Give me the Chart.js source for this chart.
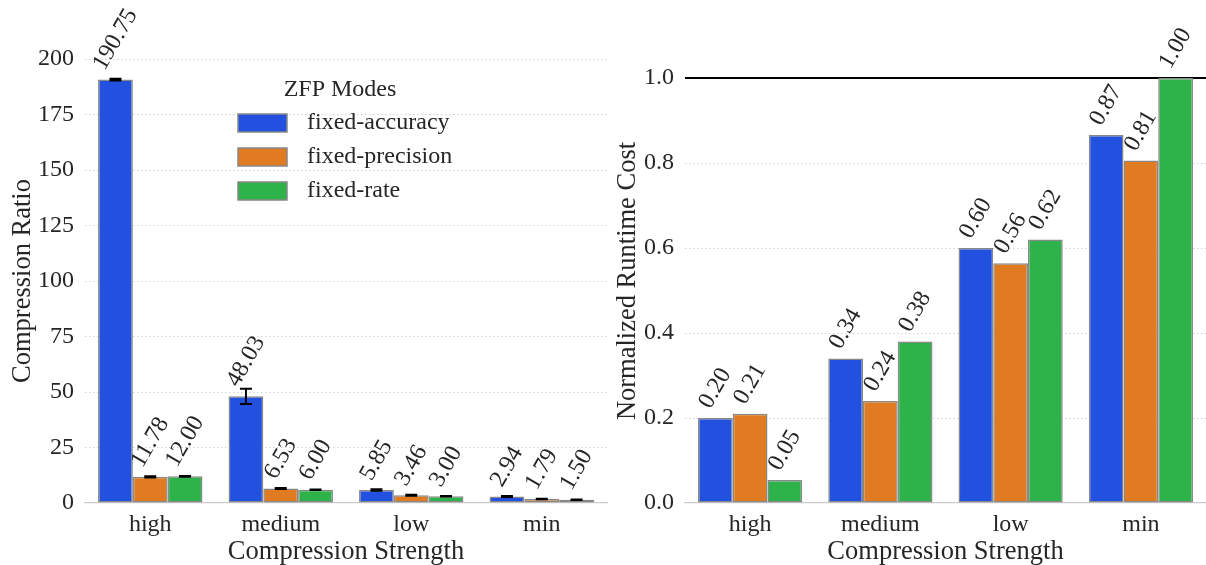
<!DOCTYPE html>
<html>
<head>
<meta charset="utf-8">
<script src="https://cdn.jsdelivr.net/npm/chart.js@4.4.0/dist/chart.umd.min.js"></script>
<style>
  body { margin: 0; background: #fff; width: 1206px; height: 565px; position: relative; overflow: hidden; }
  #ratioChart { position: absolute; left: 0; top: 0; }
  #costChart { position: absolute; left: 600px; top: 0; }
</style>
</head>
<body>
<canvas id="ratioChart" width="610" height="565"></canvas>
<canvas id="costChart" width="606" height="565"></canvas>
<script>
// categories / series
const strengths = ["high", "medium", "low", "min"];
const modes = ["fixed-accuracy", "fixed-precision", "fixed-rate"];
const modeColors = ["#2251e0", "#e07b22", "#2db34a"];

// compression ratio (left) + error bar half-widths
const ratioAccuracy = [190.75, 48.03, 5.85, 2.94];
const ratioPrecision = [11.78, 6.53, 3.46, 1.79];
const ratioRate = [12.00, 6.00, 3.00, 1.50];
const ratioErrAccuracy = [0.4, 3.4, 0.3, 0.2];
const ratioErrPrecision = [0.3, 0.2, 0.2, 0.1];
const ratioErrRate = [0.2, 0.1, 0.1, 0.1];

// normalized runtime cost (right)
const costAccuracy = [0.20, 0.34, 0.60, 0.866];
const costPrecision = [0.21, 0.24, 0.564, 0.806];
const costRate = [0.054, 0.38, 0.62, 1.00];

// tick labels
const ratioTicks = [0, 25, 50, 75, 100, 125, 150, 175, 200];
const costTicks = [0.0, 0.2, 0.4, 0.6, 0.8, 1.0];

const FONT = '"Liberation Serif", "Times New Roman", serif';
const TEXT = "#262626";

// value labels, rotated 60 deg above each bar
const barLabels = {
  id: "barLabels",
  afterDatasetsDraw(chart) {
    const ctx = chart.ctx;
    const a = Math.PI / 3;
    ctx.save();
    ctx.font = "24px " + FONT;
    ctx.fillStyle = TEXT;
    ctx.textAlign = "center";
    ctx.textBaseline = "middle";
    chart.data.datasets.forEach((ds, i) => {
      chart.getDatasetMeta(i).data.forEach((bar, j) => {
        const txt = ds.data[j].toFixed(2);
        const w = ctx.measureText(txt).width;
        const h = 22;
        const boxH = w * Math.sin(a) + h * Math.cos(a);
        ctx.save();
        ctx.translate(bar.x, bar.y - 6 - boxH / 2);
        ctx.rotate(-a);
        ctx.fillText(txt, 0, 0);
        ctx.restore();
      });
    });
    ctx.restore();
  }
};

// error bars from dataset.errors
const errorBars = {
  id: "errorBars",
  afterDatasetsDraw(chart) {
    const ctx = chart.ctx;
    const y = chart.scales.y;
    ctx.save();
    ctx.strokeStyle = "#000";
    ctx.lineWidth = 2;
    chart.data.datasets.forEach((ds, i) => {
      if (!ds.errors) return;
      chart.getDatasetMeta(i).data.forEach((bar, j) => {
        const v = ds.data[j], e = ds.errors[j];
        const top = y.getPixelForValue(v + e);
        const bot = y.getPixelForValue(v - e);
        ctx.beginPath();
        ctx.moveTo(bar.x, top); ctx.lineTo(bar.x, bot);
        ctx.moveTo(bar.x - 6, top); ctx.lineTo(bar.x + 6, top);
        ctx.moveTo(bar.x - 6, bot); ctx.lineTo(bar.x + 6, bot);
        ctx.stroke();
      });
    });
    ctx.restore();
  }
};

// legend with title, inside left plot
const modeLegend = {
  id: "modeLegend",
  afterDraw(chart) {
    const ctx = chart.ctx;
    const x0 = chart.chartArea.left + 153;
    ctx.save();
    ctx.font = "24px " + FONT;
    ctx.fillStyle = TEXT;
    ctx.textBaseline = "middle";
    ctx.textAlign = "center";
    ctx.fillText("ZFP Modes", x0 + 102, 90);
    ctx.textAlign = "left";
    chart.data.datasets.forEach((ds, i) => {
      const cy = 123 + i * 34;
      ctx.fillStyle = ds.backgroundColor;
      ctx.fillRect(x0, cy - 9, 49, 18);
      ctx.strokeStyle = "#888";
      ctx.lineWidth = 1.5;
      ctx.strokeRect(x0, cy - 9, 49, 18);
      ctx.fillStyle = TEXT;
      ctx.fillText(ds.label, x0 + 69, cy);
    });
    ctx.restore();
  }
};

function makeDatasets(series, errs) {
  return series.map((d, i) => ({
    label: modes[i],
    data: d,
    errors: errs ? errs[i] : null,
    backgroundColor: modeColors[i],
    borderColor: "#888888",
    borderWidth: 1.5,
    borderSkipped: false,
    categoryPercentage: 0.8,
    barPercentage: 1.0
  }));
}

function makeOptions(yMax, ticks, yTitle, decimals, rightPad, titlePad) {
  return {
    responsive: false,
    animation: false,
    layout: { padding: { top: 59, right: rightPad, left: 0, bottom: 0 } },
    plugins: { legend: { display: false }, tooltip: { enabled: false } },
    scales: {
      x: {
        grid: { display: false, drawTicks: false },
        border: { color: "#cccccc", width: 1.25 },
        ticks: { color: TEXT, font: { family: FONT, size: 24 }, padding: 7 },
        title: { display: true, text: "Compression Strength", color: TEXT,
                 font: { family: FONT, size: 26.5, lineHeight: 1.0 }, padding: { top: 0, bottom: 0 } },
        afterFit: s => { s.height = 62; }
      },
      y: {
        min: 0,
        max: yMax,
        afterBuildTicks: s => { s.ticks = ticks.map(v => ({ value: v })); },
        grid: {
          drawTicks: false,
          color: c => c.tick.value === 0 ? "rgba(0,0,0,0)" : (c.tick.value === 1 && yMax < 2 ? "#000" : "#d2d2d2"),
          lineWidth: c => (c.tick.value === 1 && yMax < 2) ? 2 : 1
        },
        border: { display: false, dash: c => (c.tick && c.tick.value === 1 && yMax < 2) ? [] : [1.5, 2.5] },
        ticks: { color: TEXT, font: { family: FONT, size: 24 }, padding: 11,
                 callback: v => v.toFixed(decimals) },
        title: { display: true, text: yTitle, color: TEXT,
                 font: { family: FONT, size: 26.5 }, padding: { top: titlePad, bottom: 0 } },
        afterFit: s => { s.width = 85; }
      }
    }
  };
}

new Chart(document.getElementById("ratioChart"), {
  type: "bar",
  data: {
    labels: strengths,
    datasets: makeDatasets([ratioAccuracy, ratioPrecision, ratioRate],
                           [ratioErrAccuracy, ratioErrPrecision, ratioErrRate])
  },
  options: makeOptions(200, ratioTicks, "Compression Ratio", 0, 3, 7),
  plugins: [errorBars, barLabels, modeLegend]
});

new Chart(document.getElementById("costChart"), {
  type: "bar",
  data: {
    labels: strengths,
    datasets: makeDatasets([costAccuracy, costPrecision, costRate], null)
  },
  options: makeOptions(1.045, costTicks, "Normalized Runtime Cost", 1, 0, 12),
  plugins: [barLabels]
});
</script>
</body>
</html>
